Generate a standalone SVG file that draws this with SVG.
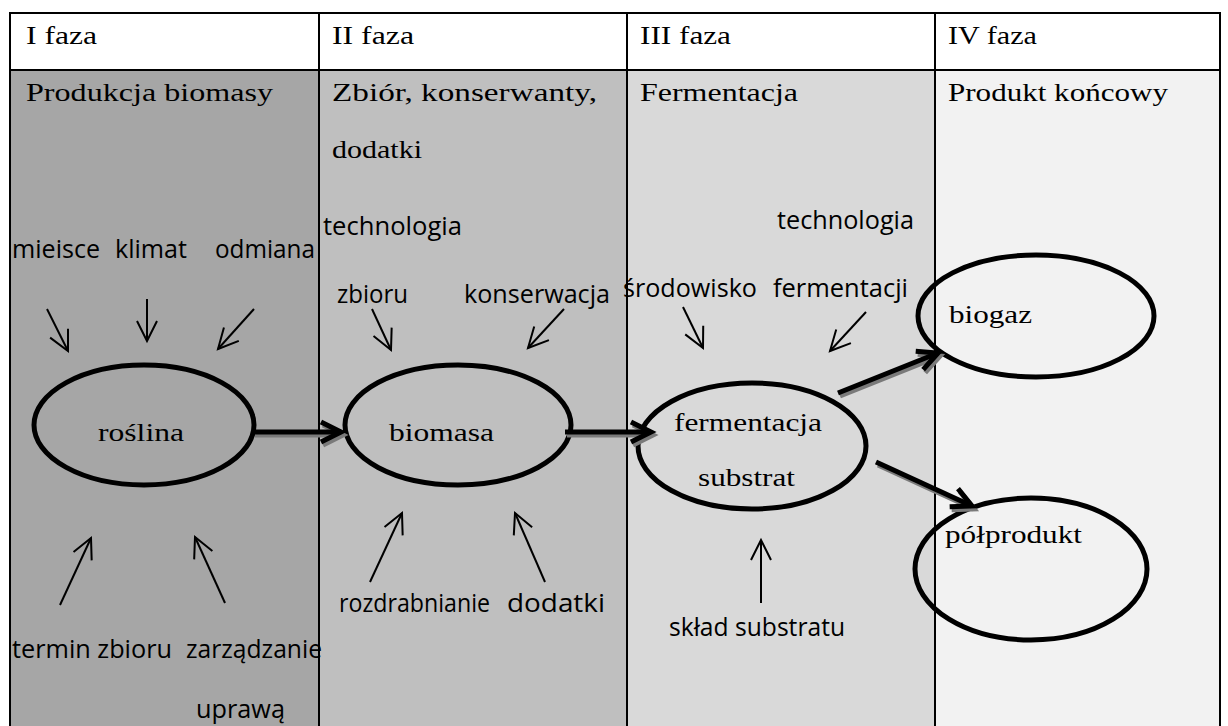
<svg xmlns="http://www.w3.org/2000/svg" width="1228" height="726" viewBox="0 0 1228 726">
<style>
.serif{font-family:"Liberation Serif","Times New Roman",serif;font-size:26px;fill:#000}
.sans{font-family:"Open Sans","Noto Sans",sans-serif;font-size:25px;fill:#000}
.grid{stroke:#000;stroke-width:2;fill:none}
.node{fill:none;stroke:#000;stroke-width:5}
.thin{stroke:#000;stroke-width:2;fill:none;marker-end:url(#thinHead)}
.thick{stroke:#000;stroke-width:5;fill:none;marker-end:url(#thickHead)}
.shadow{stroke:#7a7a7a;stroke-width:5;fill:none;marker-end:url(#shadowHead)}
</style>
<defs>
<marker id="thinHead" markerUnits="userSpaceOnUse" viewBox="-24 -14 28 28" refX="0" refY="0" markerWidth="28" markerHeight="28" orient="auto">
<path d="M-20,-10 L0,0 L-20,10" fill="none" stroke="#000" stroke-width="2"/>
</marker>
<marker id="thickHead" markerUnits="userSpaceOnUse" viewBox="-26 -16 32 32" refX="0" refY="0" markerWidth="32" markerHeight="32" orient="auto">
<path d="M-20,-10 L0,0 L-20,10" fill="none" stroke="#000" stroke-width="5"/>
</marker>
<marker id="shadowHead" markerUnits="userSpaceOnUse" viewBox="-26 -16 32 32" refX="0" refY="0" markerWidth="32" markerHeight="32" orient="auto">
<path d="M-20,-10 L0,0 L-20,10" fill="none" stroke="#7a7a7a" stroke-width="5"/>
</marker>
</defs>

<g id="table">
<rect x="10" y="13" width="1210" height="57" fill="#fff"/>
<rect x="10" y="70" width="309" height="656" fill="#a6a6a6"/>
<rect x="319" y="70" width="308" height="656" fill="#bfbfbf"/>
<rect x="627" y="70" width="308" height="656" fill="#d9d9d9"/>
<rect x="935" y="70" width="285" height="656" fill="#f2f2f2"/>
<path class="grid" d="M10,726 V13 H1220 V726 M10,70 H1220 M319,13 V726 M627,13 V726 M935,13 V726"/>
<text class="serif" x="26" y="44" textLength="71" lengthAdjust="spacingAndGlyphs">I faza</text>
<text class="serif" x="332" y="44" textLength="82" lengthAdjust="spacingAndGlyphs">II faza</text>
<text class="serif" x="640" y="44" textLength="91" lengthAdjust="spacingAndGlyphs">III faza</text>
<text class="serif" x="948" y="44" textLength="89" lengthAdjust="spacingAndGlyphs">IV faza</text>
<text class="serif" x="26" y="101" textLength="247" lengthAdjust="spacingAndGlyphs">Produkcja biomasy</text>
<text class="serif" x="332" y="101" textLength="265" lengthAdjust="spacingAndGlyphs">Zbiór, konserwanty,</text>
<text class="serif" x="332" y="158" textLength="90" lengthAdjust="spacingAndGlyphs">dodatki</text>
<text class="serif" x="640" y="101" textLength="158" lengthAdjust="spacingAndGlyphs">Fermentacja</text>
<text class="serif" x="948" y="101" textLength="220" lengthAdjust="spacingAndGlyphs">Produkt końcowy</text>
</g>

<g id="labels">
<text class="sans" x="12" y="258" textLength="88" lengthAdjust="spacingAndGlyphs">mieisce</text>
<text class="sans" x="115" y="258" textLength="72" lengthAdjust="spacingAndGlyphs">klimat</text>
<text class="sans" x="215" y="258" textLength="100" lengthAdjust="spacingAndGlyphs">odmiana</text>
<text class="sans" x="323" y="235" textLength="139" lengthAdjust="spacingAndGlyphs">technologia</text>
<text class="sans" x="337" y="303" textLength="71" lengthAdjust="spacingAndGlyphs">zbioru</text>
<text class="sans" x="464" y="303" textLength="146" lengthAdjust="spacingAndGlyphs">konserwacja</text>
<text class="sans" x="777" y="229" textLength="137" lengthAdjust="spacingAndGlyphs">technologia</text>
<text class="sans" x="623" y="297" textLength="134" lengthAdjust="spacingAndGlyphs">środowisko</text>
<text class="sans" x="773" y="297" textLength="135" lengthAdjust="spacingAndGlyphs">fermentacji</text>
<text class="sans" x="12" y="658" textLength="160" lengthAdjust="spacingAndGlyphs">termin zbioru</text>
<text class="sans" x="186" y="658" textLength="136" lengthAdjust="spacingAndGlyphs">zarządzanie</text>
<text class="sans" x="196" y="718" textLength="89" lengthAdjust="spacingAndGlyphs">uprawą</text>
<text class="sans" x="339" y="612" textLength="151" lengthAdjust="spacingAndGlyphs">rozdrabnianie</text>
<text class="sans" x="507" y="612" textLength="98" lengthAdjust="spacingAndGlyphs">dodatki</text>
<text class="sans" x="669" y="636" textLength="176" lengthAdjust="spacingAndGlyphs">skład substratu</text>
</g>

<g id="roslina">
<ellipse class="node" cx="144" cy="425" rx="110" ry="60"/>
<text class="serif" x="98" y="441" textLength="86" lengthAdjust="spacingAndGlyphs">roślina</text>
</g>
<g id="biomasa">
<ellipse class="node" cx="458" cy="425" rx="113" ry="60"/>
<text class="serif" x="389" y="441" textLength="105" lengthAdjust="spacingAndGlyphs">biomasa</text>
</g>
<g id="fermentacja">
<ellipse class="node" cx="752" cy="446" rx="114" ry="63"/>
<text class="serif" x="674" y="431" textLength="148" lengthAdjust="spacingAndGlyphs">fermentacja</text>
<text class="serif" x="698" y="486" textLength="97" lengthAdjust="spacingAndGlyphs">substrat</text>
</g>
<g id="biogaz">
<ellipse class="node" cx="1036" cy="316" rx="118" ry="61"/>
<text class="serif" x="949" y="323" textLength="83" lengthAdjust="spacingAndGlyphs">biogaz</text>
</g>
<g id="polprodukt">
<ellipse class="node" cx="1031" cy="569" rx="116" ry="71"/>
<text class="serif" x="945" y="543" textLength="137" lengthAdjust="spacingAndGlyphs">półprodukt</text>
</g>

<g id="connectors">
<line class="thin" x1="47" y1="309" x2="68" y2="351"/>
<line class="thin" x1="147" y1="299" x2="147" y2="341"/>
<line class="thin" x1="254" y1="309" x2="218" y2="349"/>
<line class="thin" x1="372" y1="309" x2="391" y2="350"/>
<line class="thin" x1="564" y1="309" x2="528" y2="348"/>
<line class="thin" x1="683" y1="307" x2="703" y2="348"/>
<line class="thin" x1="866" y1="312" x2="830" y2="351"/>
<line class="thin" x1="60" y1="605" x2="91" y2="538"/>
<line class="thin" x1="225" y1="603" x2="195" y2="537"/>
<line class="thin" x1="370" y1="582" x2="402" y2="513"/>
<line class="thin" x1="545" y1="582" x2="515" y2="513"/>
<line class="thin" x1="761" y1="603" x2="761" y2="540"/>
<g transform="translate(2,3)">
<line class="shadow" x1="253" y1="432" x2="341" y2="432"/>
<line class="shadow" x1="565" y1="432" x2="651" y2="432"/>
<line class="shadow" x1="838" y1="393" x2="938" y2="353"/>
<line class="shadow" x1="876" y1="462" x2="972" y2="506"/>
</g>
<line class="thick" x1="253" y1="432" x2="341" y2="432"/>
<line class="thick" x1="565" y1="432" x2="651" y2="432"/>
<line class="thick" x1="838" y1="393" x2="938" y2="353"/>
<line class="thick" x1="876" y1="462" x2="972" y2="506"/>
</g>
</svg>
